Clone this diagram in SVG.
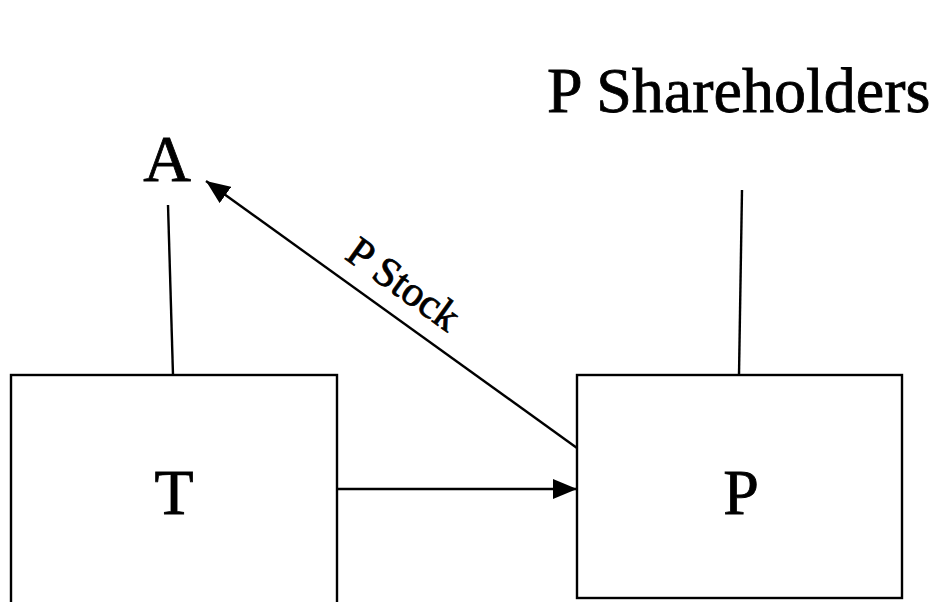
<svg xmlns="http://www.w3.org/2000/svg" width="941" height="602" viewBox="0 0 941 602">
<style>
.t{font-family:"Liberation Serif","Times New Roman",serif;fill:#000;stroke:#000;stroke-width:0.8}
.ln{stroke:#000;stroke-width:2.4;fill:none}
.box{stroke:#000;stroke-width:2.4;fill:#fff}
</style>
<defs>
<marker id="ahb" viewBox="0 0 10 10" refX="10" refY="5" markerWidth="24" markerHeight="20" markerUnits="userSpaceOnUse" orient="auto" preserveAspectRatio="none">
<path d="M0,0 L10,5 L0,10 z" fill="#000"/>
</marker>
</defs>
<rect width="941" height="602" fill="#fff"/>
<g id="connectors">
<line class="ln" x1="168" y1="205" x2="173" y2="375"/>
<line class="ln" x1="742" y1="190" x2="739" y2="375"/>
<line class="ln" x1="577" y1="448" x2="206" y2="181" marker-end="url(#ahb)"/>
<line class="ln" x1="337" y1="489" x2="577" y2="489" marker-end="url(#ahb)"/>
<text class="t" font-size="42" text-anchor="middle" transform="translate(385,310) rotate(35.7)" y="-18">P Stock</text>
</g>
<g id="node-A">
<text class="t" x="167" y="181" font-size="66" text-anchor="middle">A</text>
</g>
<g id="node-PShareholders">
<text class="t" x="547" y="112" font-size="64">P Shareholders</text>
</g>
<g id="node-T">
<rect class="box" x="11" y="375" width="326" height="240"/>
<text class="t" x="174" y="514" font-size="64" text-anchor="middle">T</text>
</g>
<g id="node-P">
<rect class="box" x="577" y="375" width="325" height="223"/>
<text class="t" x="741" y="514" font-size="64" text-anchor="middle">P</text>
</g>
</svg>
